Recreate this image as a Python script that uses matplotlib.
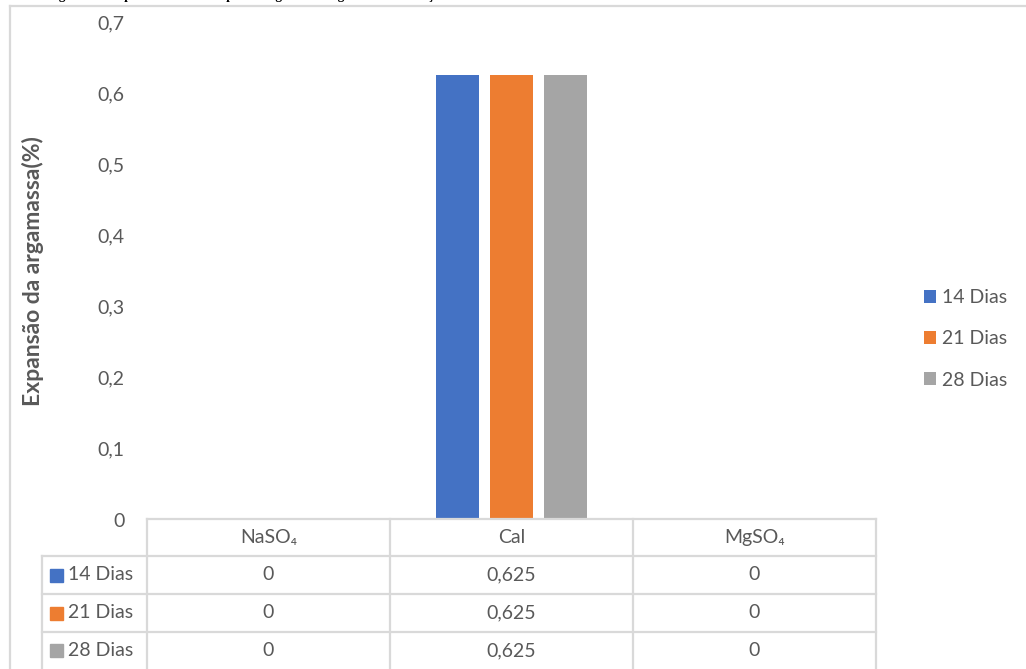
import matplotlib.pyplot as plt
from matplotlib.ticker import FuncFormatter, MultipleLocator
from matplotlib.patches import Rectangle
import numpy as np

# Expansão das argamassas por meio de cura
categorias = ['NaSO₄', 'Cal', 'MgSO₄']
series = ['14 Dias', '21 Dias', '28 Dias']
dias_14 = [0, 0.625, 0]
dias_21 = [0, 0.625, 0]
dias_28 = [0, 0.625, 0]
valores = [dias_14, dias_21, dias_28]
cores = ['#4472C4', '#ED7D31', '#A5A5A5']

W, H = 1026, 669
txt = '#595959'
linha = '#D9D9D9'
fonte = ['Lato', 'DejaVu Sans']
plt.rcParams['font.family'] = fonte


def fx(px):
    return px / W


def fy(py):
    return 1 - py / H


def fmt(v):
    return '0' if v == 0 else f'{v:.1f}'.replace('.', ',')


def fmt_tab(v):
    return '0' if v == 0 else f'{v:g}'.replace('.', ',')


fig = plt.figure(figsize=(W / 100, H / 100), dpi=100)

# Moldura do gráfico
fig.add_artist(plt.Line2D([fx(9.5), fx(9.5)], [fy(6), 0], transform=fig.transFigure, color=linha, lw=1.6))
fig.add_artist(plt.Line2D([fx(9.5), 1], [fy(6), fy(6)], transform=fig.transFigure, color=linha, lw=1.6))

# Legenda da figura, cortada no topo da página
fig.text(fx(47), fy(-0.5), 'Figura 6 – Expansão média em percentagem das argamassas de traço 1:3.',
         family='Liberation Serif', weight='bold', fontsize=9.5, va='baseline', ha='left', color='black')

# Eixo principal com as barras
x0, x1, ytop, ybot = 147, 876, 22, 520
ax = fig.add_axes([fx(x0), fy(ybot), fx(x1 - x0), (ybot - ytop) / H])
x = np.arange(len(categorias))
larg = 43 / 243
passo = 54 / 243
barras = []
for i, (nome, vals, c) in enumerate(zip(series, valores, cores)):
    b = ax.bar(x + (i - 1) * passo, vals, width=larg, color=c, label=nome)
    barras.append(b)

ax.set_xlim(-0.5, 2.5)
ax.set_ylim(0, 0.7)
ax.yaxis.set_major_locator(MultipleLocator(0.1))
ax.yaxis.set_major_formatter(FuncFormatter(lambda v, p: fmt(round(v, 1))))
ax.set_xticks([])
ax.tick_params(axis='y', length=0, pad=16, labelsize=14, labelcolor=txt)
for s in ax.spines.values():
    s.set_visible(False)

fig.text(fx(33), fy(271), 'Expansão da argamassa(%)', rotation=90, ha='center', va='center',
         fontsize=16.5, weight='bold', color=txt)

# Legenda à direita
leg = fig.legend(handles=[b[1] for b in barras], labels=series, loc='center left',
                 bbox_to_anchor=(fx(906), fy(339)), frameon=False, fontsize=14,
                 handlelength=0.65, handleheight=0.65, handletextpad=0.3, labelspacing=1.25)
for t in leg.get_texts():
    t.set_color(txt)

# Tabela de dados abaixo do gráfico
cols = [147, 390, 633, 876]
linhas = [519, 556, 594, 632, 669]
tab = fig.add_axes([0, 0, 1, 1], facecolor='none')
tab.set_xlim(0, W)
tab.set_ylim(H, 0)
tab.axis('off')
tab.plot([cols[0], cols[-1]], [linhas[0], linhas[0]], color=linha, lw=1.6)
for yy in linhas[1:-1]:
    tab.plot([42, cols[-1]], [yy, yy], color=linha, lw=1.6)
for xx in cols:
    tab.plot([xx, xx], [linhas[0], H], color=linha, lw=1.6)
tab.plot([42, 42], [linhas[1], H], color=linha, lw=1.6)

for j, cat in enumerate(categorias):
    xc = (cols[j] + cols[j + 1]) / 2
    tab.text(xc, (linhas[0] + linhas[1]) / 2, cat, ha='center', va='center', fontsize=14, color=txt)
    for i, vals in enumerate(valores):
        yc = (linhas[i + 1] + linhas[i + 2]) / 2
        tab.text(xc, yc, fmt_tab(vals[j]), ha='center', va='center', fontsize=14, color=txt)

for i, (nome, c) in enumerate(zip(series, cores)):
    yc = (linhas[i + 1] + linhas[i + 2]) / 2
    tab.add_patch(Rectangle((50, yc - 6.5), 13, 13, color=c))
    tab.text(68, yc, nome, ha='left', va='center', fontsize=14, color=txt)

plt.savefig('out.png', dpi=100)
